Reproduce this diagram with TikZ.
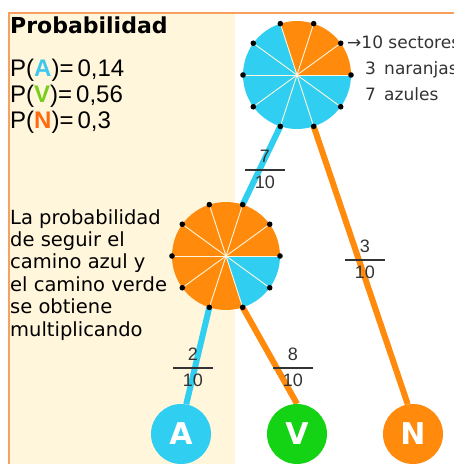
\documentclass[tikz,border=0pt]{standalone}
\usepackage{fontspec}
\setmainfont{DejaVu Sans}
\newfontfamily\arialfont{Liberation Sans}
\usetikzlibrary{positioning,backgrounds}
\definecolor{sky}{HTML}{30CFF2}
\definecolor{tangerine}{HTML}{FF8A0C}
\definecolor{lime}{HTML}{14D214}
\definecolor{cream}{HTML}{FFF6DC}
\definecolor{frameline}{HTML}{F9A05E}
\definecolor{ink}{HTML}{333333}
\definecolor{ablue}{HTML}{3CC8F0}
\definecolor{vgreen}{HTML}{7ACC1E}
\definecolor{norange}{HTML}{FF6A10}

\tikzset{
  branch/.style={line width=6pt},
  spoke/.style={draw=cream,line width=0.9pt},
  outcome/.style={circle,minimum size=60pt,inner sep=0pt,text=white,
    font=\bfseries\fontsize{30}{30}\selectfont},
  fracbar/.style={fill=ink,minimum width=40pt,minimum height=1.4pt,inner sep=0pt},
  fracdigit/.style={inner sep=0pt,text=ink,font=\arialfont\fontsize{18}{18}\selectfont},
  sidenote/.style={anchor=base west,inner sep=0pt,text=ink,font=\fontsize{17}{17}\selectfont}
}

% one spinner: center, screen angle where the orange part ends
\newcommand{\drawwheel}[2]{%
  \fill[tangerine] (#1) -- ++(0:54) arc[start angle=0,end angle=-#2,radius=54] -- cycle;
  \fill[sky] (#1) -- ++(-#2:54) arc[start angle=-#2,end angle=-360,radius=54] -- cycle;
  \foreach \a in {0,36,...,324}{\draw[spoke] (#1) -- ++(\a:54);}
  \foreach \a in {0,36,...,324}{\fill (#1) ++(\a:54) circle (2.8);}
}

\begin{document}
\begin{tikzpicture}[x=1pt,y=-1pt]
\useasboundingbox (0,0) rectangle (454,464);

% spinner centres and their dots
\coordinate (top) at (297,75);
\coordinate (mid) at (226,256);
\path (top) ++(-252:54) coordinate (top-252);
\path (top) ++(-288:54) coordinate (top-288);
\path (mid) ++(-72:54) coordinate (mid-72);
\path (mid) ++(-252:54) coordinate (mid-252);
\path (mid) ++(-288:54) coordinate (mid-288);

% outcomes
\node[outcome,fill=sky] (A) at (181,434) {A};
\node[outcome,fill=lime] (V) at (297,434) {V};
\node[outcome,fill=tangerine] (N) at (413,434) {N};

\begin{pgfonlayer}{background}
  \fill[cream] (9.5,14.3) rectangle (235,464);
  \draw[frameline,line width=2pt] (8.5,464) -- (8.5,13.3) -- (454,13.3);
  \draw[branch,sky] (top-252) -- (mid-72);
  \draw[branch,tangerine] (top-288) -- (N.100);
  \draw[branch,sky] (mid-252) -- (A.80);
  \draw[branch,tangerine] (mid-288) -- (V.north);
\end{pgfonlayer}

\drawwheel{top}{108}
\drawwheel{mid}{288}

% fractions
\node[fracbar] (f7) at (265,170) {};
\node[fracdigit,above=6pt of f7] (f7n) {7};
\node[fracdigit,below=4.5pt of f7] (f7d) {10};
\node[fracbar] (f3) at (365,260) {};
\node[fracdigit,above=6pt of f3] (f3n) {3};
\node[fracdigit,below=4.5pt of f3] (f3d) {10};
\node[fracbar] (f2) at (193,368) {};
\node[fracdigit,above=6pt of f2] (f2n) {2};
\node[fracdigit,below=4.5pt of f2] (f2d) {10};
\node[fracbar] (f8) at (293,368) {};
\node[fracdigit,above=6pt of f8] (f8n) {8};
\node[fracdigit,below=4.5pt of f8] (f8d) {10};

% texts
\node[anchor=base west,inner sep=0pt,font=\bfseries\fontsize{22}{22}\selectfont] (title) at (10,33) {Probabilidad};
\node[anchor=base west,inner sep=0pt,font=\arialfont\fontsize{24}{24}\selectfont] (pa) at (10,76) {P(\textbf{\textcolor{ablue}{A}})=\,0,14};
\node[anchor=base west,inner sep=0pt,font=\arialfont\fontsize{24}{24}\selectfont] (pv) at (10,102) {P(\textbf{\textcolor{vgreen}{V}})=\,0,56};
\node[anchor=base west,inner sep=0pt,font=\arialfont\fontsize{24}{24}\selectfont] (pn) at (10,128) {P(\textbf{\textcolor{norange}{N}})=\,0,3};
\node[anchor=north west,inner sep=0pt,align=left,font=\fontsize{19.5}{22.4}\selectfont] (note) at (10,209)
  {La probabilidad\\de seguir el\\camino azul y\\el camino verde\\se obtiene\\multiplicando};
\node[sidenote] (sect) at (347,48) {→10 sectores};
\node[sidenote] (nar) at (365,74) {3\, naranjas};
\node[sidenote] (azu) at (365,100) {7\, azules};
\end{tikzpicture}
\end{document}
